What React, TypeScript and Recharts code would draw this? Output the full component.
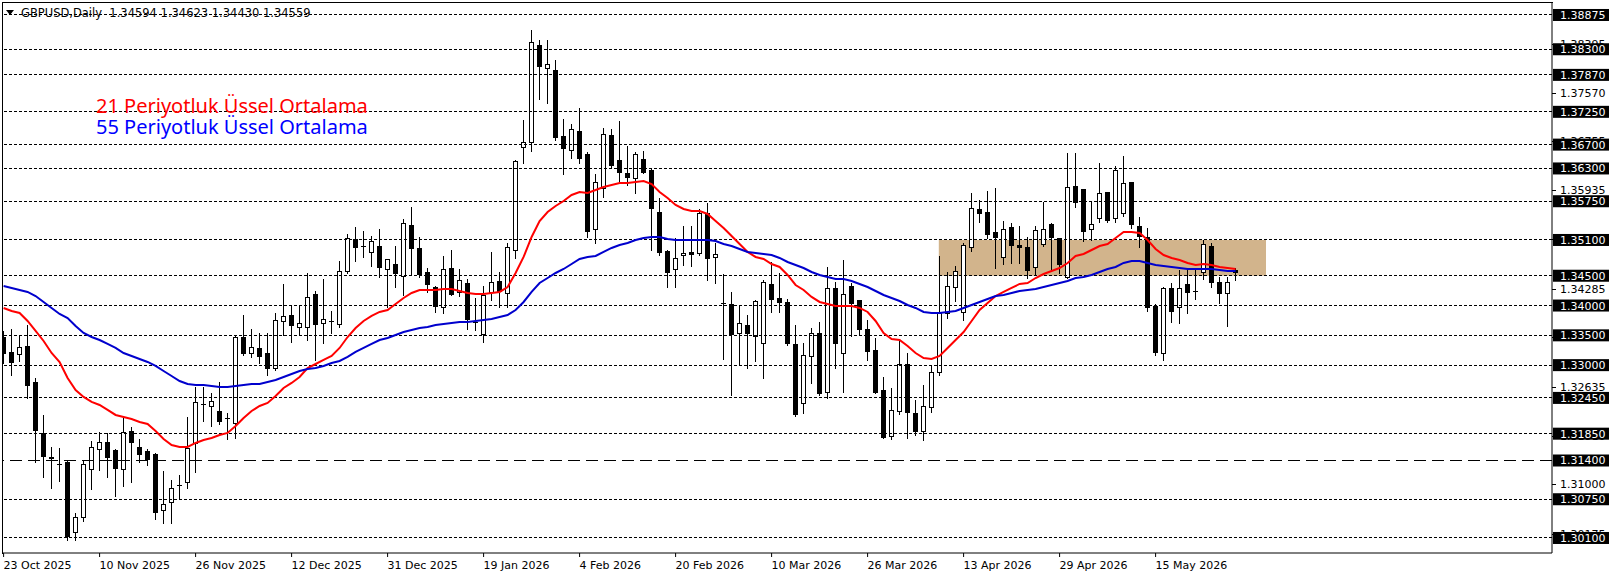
import { ComposedChart, Bar, Line, XAxis, YAxis, ReferenceLine, ReferenceArea } from 'recharts';

// GBPUSD daily, one entry per bar (index 0 = 23 Oct 2025)
const OPEN = [
  1.33472, 1.33221, 1.33187, 1.33322, 1.32717, 1.31862, 1.31459, 1.31342, 1.31375, 1.30201,
  1.30452, 1.31258, 1.31593, 1.31711, 1.31576, 1.31258, 1.31895, 1.31627, 1.3156, 1.31509,
  1.3057, 1.30704, 1.3099, 1.3104, 1.31694, 1.32348, 1.32315, 1.32231, 1.32113, 1.32029,
  1.33472, 1.33204, 1.33288, 1.33204, 1.32952, 1.33741, 1.33841, 1.3364, 1.3364, 1.34194,
  1.33707, 1.33741, 1.3369, 1.3458, 1.35117, 1.34999, 1.34898, 1.34999, 1.34613, 1.34697,
  1.34496, 1.35352, 1.34966, 1.34563, 1.34311, 1.33976, 1.3463, 1.34227, 1.34378, 1.33724,
  1.33523, 1.34227, 1.34412, 1.34211, 1.34932, 1.3666, 1.36744, 1.38372, 1.37986, 1.37952,
  1.36845, 1.3661, 1.36929, 1.36543, 1.35284, 1.35972, 1.36862, 1.36442, 1.36224, 1.3614,
  1.36459, 1.36274, 1.3557, 1.34915, 1.34613, 1.34848, 1.34898, 1.34882, 1.35553, 1.34815,
  1.34043, 1.34026, 1.3354, 1.33674, 1.3349, 1.33372, 1.34362, 1.34127, 1.3406, 1.33355,
  1.32365, 1.33154, 1.3354, 1.3255, 1.34295, 1.33204, 1.34328, 1.34093, 1.33607, 1.33254,
  1.32583, 1.31811, 1.32231, 1.33019, 1.32197, 1.31895, 1.32298, 1.32885, 1.33875, 1.34311,
  1.33892, 1.34982, 1.3562, 1.3557, 1.35234, 1.34815, 1.35318, 1.35016, 1.34982, 1.34647,
  1.35033, 1.35368, 1.35133, 1.34479, 1.36006, 1.35956, 1.35284, 1.35469, 1.35905, 1.35469,
  1.35553, 1.36073, 1.35335, 1.3515, 1.33992, 1.33204, 1.34295, 1.33976, 1.34362, 1.34244,
  1.34563, 1.34999, 1.34395, 1.34211, 1.34594,
];
const HIGH = [
  1.33573, 1.33607, 1.33506, 1.33674, 1.32784, 1.32164, 1.31627, 1.3161, 1.31409, 1.30519,
  1.31409, 1.31727, 1.31878, 1.31862, 1.3159, 1.32113, 1.31962, 1.31761, 1.31593, 1.31526,
  1.31224, 1.31073, 1.31157, 1.3213, 1.32634, 1.32634, 1.32533, 1.32717, 1.32197, 1.33506,
  1.33841, 1.33607, 1.3354, 1.3354, 1.33875, 1.34362, 1.33992, 1.33992, 1.34546, 1.34244,
  1.34446, 1.33909, 1.34748, 1.35201, 1.35318, 1.35251, 1.35167, 1.35284, 1.34781, 1.34999,
  1.35452, 1.35654, 1.3515, 1.3463, 1.3432, 1.34831, 1.34932, 1.34613, 1.34446, 1.34127,
  1.34328, 1.34899, 1.34563, 1.3505, 1.36442, 1.37113, 1.38623, 1.38455, 1.38455, 1.3812,
  1.3713, 1.37046, 1.37315, 1.36576, 1.36207, 1.36979, 1.36962, 1.37096, 1.36677, 1.36576,
  1.36593, 1.36308, 1.35805, 1.34932, 1.35133, 1.35335, 1.35335, 1.3562, 1.35721, 1.3505,
  1.34529, 1.34227, 1.34009, 1.33841, 1.34093, 1.34429, 1.34731, 1.34546, 1.3411, 1.33674,
  1.33372, 1.33623, 1.33724, 1.34647, 1.34395, 1.34764, 1.34378, 1.341, 1.33758, 1.33456,
  1.32801, 1.32617, 1.33405, 1.33204, 1.32415, 1.32667, 1.33003, 1.34831, 1.34563, 1.34664,
  1.3505, 1.35888, 1.35771, 1.35922, 1.35972, 1.35419, 1.35385, 1.35335, 1.3515, 1.35335,
  1.35737, 1.35385, 1.3514, 1.3656, 1.3656, 1.3596, 1.35754, 1.36392, 1.3591, 1.36341,
  1.36509, 1.3608, 1.35486, 1.35301, 1.34026, 1.34311, 1.34378, 1.34597, 1.34597, 1.34597,
  1.351, 1.3505, 1.34479, 1.34479, 1.34623,
];
const LOW = [
  1.33036, 1.32835, 1.3307, 1.32449, 1.31375, 1.31123, 1.30939, 1.31056, 1.30066, 1.30066,
  1.30385, 1.30922, 1.31241, 1.31123, 1.30805, 1.30972, 1.3104, 1.31375, 1.31325, 1.30419,
  1.30352, 1.30352, 1.30771, 1.30939, 1.31207, 1.32063, 1.31979, 1.32013, 1.31761, 1.31778,
  1.3317, 1.33137, 1.33036, 1.32835, 1.32919, 1.33506, 1.33389, 1.33506, 1.33422, 1.33086,
  1.33372, 1.3354, 1.3364, 1.34546, 1.34748, 1.34815, 1.34664, 1.34479, 1.33976, 1.34311,
  1.34177, 1.34513, 1.34479, 1.34227, 1.33892, 1.33875, 1.34177, 1.3416, 1.33607, 1.3359,
  1.33389, 1.34093, 1.33976, 1.33976, 1.34798, 1.36392, 1.36593, 1.37466, 1.37398, 1.36778,
  1.36207, 1.36476, 1.36392, 1.3515, 1.3505, 1.35821, 1.36325, 1.36073, 1.36023, 1.35888,
  1.36224, 1.34932, 1.34848, 1.34311, 1.34311, 1.3468, 1.34664, 1.34848, 1.34429, 1.34378,
  1.33103, 1.32499, 1.33003, 1.32952, 1.3307, 1.32785, 1.33892, 1.33892, 1.33338, 1.32147,
  1.32197, 1.32701, 1.32499, 1.32449, 1.32952, 1.3255, 1.3349, 1.33523, 1.33086, 1.32533,
  1.31778, 1.31761, 1.3218, 1.31778, 1.31828, 1.31744, 1.32214, 1.32835, 1.33791, 1.34076,
  1.33758, 1.34915, 1.35402, 1.35133, 1.3463, 1.34697, 1.34714, 1.34714, 1.34462, 1.34513,
  1.34999, 1.34613, 1.34546, 1.3447, 1.35654, 1.35083, 1.351, 1.35402, 1.35402, 1.35402,
  1.35503, 1.35301, 1.34982, 1.33909, 1.3317, 1.33086, 1.33724, 1.33707, 1.33875, 1.3411,
  1.34446, 1.34311, 1.34043, 1.33657, 1.3443,
];
const CLOSE = [
  1.33204, 1.33053, 1.33305, 1.32667, 1.31912, 1.31476, 1.3145, 1.31335, 1.30134, 1.30452,
  1.31342, 1.31627, 1.31711, 1.31459, 1.31274, 1.31878, 1.31711, 1.31509, 1.31425, 1.30536,
  1.3067, 1.30939, 1.30995, 1.3161, 1.32382, 1.3234, 1.32399, 1.32063, 1.32105, 1.33472,
  1.33204, 1.33305, 1.33154, 1.32952, 1.33758, 1.33825, 1.33674, 1.33707, 1.34143, 1.3369,
  1.33774, 1.33735, 1.3458, 1.35133, 1.34982, 1.34993, 1.35083, 1.34647, 1.34781, 1.34546,
  1.35385, 1.34966, 1.34529, 1.34362, 1.33992, 1.34613, 1.34194, 1.34429, 1.33774, 1.3373,
  1.34177, 1.34395, 1.34244, 1.34982, 1.36425, 1.36744, 1.38422, 1.38019, 1.38053, 1.36828,
  1.36643, 1.36962, 1.36476, 1.35251, 1.36073, 1.36878, 1.36358, 1.36241, 1.36157, 1.36543,
  1.36241, 1.35637, 1.34898, 1.34563, 1.34798, 1.34882, 1.34865, 1.35553, 1.34798, 1.34865,
  1.3404, 1.33523, 1.33707, 1.3354, 1.34076, 1.34395, 1.3411, 1.3406, 1.33372, 1.3218,
  1.3317, 1.3354, 1.32533, 1.34295, 1.33372, 1.34194, 1.34043, 1.33607, 1.33238, 1.3255,
  1.31795, 1.32248, 1.33019, 1.32214, 1.31895, 1.32315, 1.32885, 1.33875, 1.34328, 1.3458,
  1.35016, 1.35637, 1.35553, 1.35201, 1.3515, 1.35284, 1.35016, 1.34982, 1.34597, 1.35268,
  1.35284, 1.3515, 1.34697, 1.35989, 1.35737, 1.35251, 1.35368, 1.35888, 1.35435, 1.36274,
  1.36056, 1.35368, 1.35167, 1.33976, 1.33221, 1.34295, 1.33909, 1.34295, 1.34227, 1.3425,
  1.35033, 1.34395, 1.34211, 1.34395, 1.34559,
];
// exponential averages
const EMA21 = [
  1.33959, 1.33909, 1.33875, 1.33741, 1.33573, 1.33405, 1.33204, 1.33053, 1.32785, 1.32583,
  1.32466, 1.32382, 1.32332, 1.32248, 1.32164, 1.3213, 1.32097, 1.32046, 1.32013, 1.31895,
  1.31761, 1.3166, 1.31627, 1.31627, 1.31694, 1.31744, 1.31778, 1.31828, 1.31862, 1.31979,
  1.32113, 1.32231, 1.32315, 1.32365, 1.32483, 1.32617, 1.32701, 1.32801, 1.32952, 1.33019,
  1.33087, 1.33154, 1.33288, 1.33472, 1.33623, 1.33741, 1.33825, 1.33892, 1.33925, 1.34026,
  1.34127, 1.34211, 1.34261, 1.34261, 1.34261, 1.34278, 1.34278, 1.34244, 1.34211, 1.34194,
  1.34194, 1.34211, 1.34228, 1.34311, 1.34546, 1.34815, 1.3515, 1.35419, 1.3557, 1.3567,
  1.35754, 1.35855, 1.35905, 1.35888, 1.35939, 1.35989, 1.36023, 1.36056, 1.36056, 1.36073,
  1.3609, 1.36039, 1.35905, 1.35805, 1.35687, 1.3562, 1.35586, 1.35586, 1.35536, 1.35419,
  1.35301, 1.35167, 1.35033, 1.34899, 1.34815, 1.34781, 1.34697, 1.34647, 1.34513, 1.34345,
  1.34261, 1.34144, 1.3406, 1.34026, 1.33993, 1.33993, 1.33993, 1.33959, 1.33892, 1.33741,
  1.3354, 1.33439, 1.33422, 1.33321, 1.33204, 1.3312, 1.33103, 1.33154, 1.33288, 1.33422,
  1.33556, 1.33741, 1.33925, 1.34043, 1.3416, 1.34228, 1.34295, 1.34362, 1.34378, 1.34462,
  1.34529, 1.3458, 1.3463, 1.34714, 1.34831, 1.34865, 1.34932, 1.34999, 1.35033, 1.35133,
  1.35234, 1.35234, 1.35217, 1.351, 1.34949, 1.34848, 1.34798, 1.34764, 1.34714, 1.3468,
  1.34697, 1.3468, 1.34647, 1.3463, 1.34613,
];
const EMA55 = [
  1.34328, 1.34295, 1.34261, 1.34228, 1.3416, 1.3406, 1.33959, 1.33858, 1.33791, 1.33657,
  1.3354, 1.33472, 1.33422, 1.33355, 1.33288, 1.33204, 1.33154, 1.33103, 1.33053, 1.32986,
  1.32902, 1.32818, 1.32734, 1.32684, 1.32667, 1.32667, 1.3265, 1.32634, 1.32634, 1.3265,
  1.32667, 1.32684, 1.32684, 1.32717, 1.32751, 1.32801, 1.32852, 1.32902, 1.32936, 1.32952,
  1.32986, 1.33036, 1.3307, 1.33137, 1.33221, 1.33288, 1.33355, 1.33422, 1.33456, 1.33506,
  1.33556, 1.3359, 1.33623, 1.3364, 1.33674, 1.33691, 1.33707, 1.33724, 1.33724, 1.33741,
  1.33758, 1.33774, 1.33808, 1.33841, 1.33925, 1.3406, 1.34228, 1.34378, 1.34462, 1.34546,
  1.34613, 1.34697, 1.34781, 1.34815, 1.34831, 1.34899, 1.34966, 1.35016, 1.3505, 1.351,
  1.35133, 1.3515, 1.3515, 1.35117, 1.351, 1.351, 1.351, 1.351, 1.351, 1.35083,
  1.35033, 1.34999, 1.34949, 1.34899, 1.34882, 1.34865, 1.34848, 1.34798, 1.34731, 1.3468,
  1.3463, 1.34563, 1.34513, 1.34479, 1.34446, 1.34446, 1.34412, 1.34362, 1.34311, 1.34244,
  1.34177, 1.34127, 1.34076, 1.34009, 1.33959, 1.33892, 1.33875, 1.33875, 1.33892, 1.33909,
  1.33959, 1.34009, 1.3406, 1.3411, 1.3416, 1.34177, 1.34211, 1.34244, 1.34261, 1.34278,
  1.34311, 1.34345, 1.34378, 1.34412, 1.34462, 1.34479, 1.34513, 1.34563, 1.34613, 1.34647,
  1.34714, 1.34748, 1.34748, 1.34714, 1.3468, 1.34664, 1.34647, 1.3463, 1.34613, 1.34613,
  1.34613, 1.34613, 1.34597, 1.3458, 1.3458,
];

const DATE_TICKS = [0, 12, 24, 36, 48, 60, 72, 84, 96, 108, 120, 132, 144];
const DATE_LABELS = [
  '23 Oct 2025', '10 Nov 2025', '26 Nov 2025', '12 Dec 2025', '31 Dec 2025', '19 Jan 2026',
  '4 Feb 2026', '20 Feb 2026', '10 Mar 2026', '26 Mar 2026', '13 Apr 2026', '29 Apr 2026', '15 May 2026',
];
const PRICE_TICKS = [1.38395, 1.3757, 1.36755, 1.35935, 1.3511, 1.34285, 1.3347, 1.32635, 1.3181, 1.31, 1.30175];
const LEVELS = [
  1.38875, 1.383, 1.3787, 1.3725, 1.367, 1.363, 1.3575, 1.351, 1.345, 1.34, 1.335, 1.33,
  1.3245, 1.3185, 1.314, 1.3075, 1.301,
];
const KEY_LEVEL = 1.314;
// supply/demand box, in bar index units and price
const ZONE_BARS = [116.9, 157.8];
const ZONE_PRICES = [1.345, 1.351];

const data = OPEN.map((open, i) => ({
  i,
  open,
  high: HIGH[i],
  low: LOW[i],
  close: CLOSE[i],
  range: [LOW[i], HIGH[i]],
  ema21: EMA21[i],
  ema55: EMA55[i],
}));

const FONT = '"DejaVu Sans", Tahoma, sans-serif';

function Candle(props: any) {
  const { x, y, width, height, payload } = props;
  if (x == null || y == null || !payload) return null;
  const top = Math.min(y, y + height);
  const h = Math.abs(height);
  const span = payload.high - payload.low;
  const toY = (p: number) => (span > 0 ? top + ((payload.high - p) / span) * h : top);
  const cx = Math.round(x + width / 2);
  const up = payload.close >= payload.open;
  const bTop = Math.round(toY(Math.max(payload.open, payload.close)));
  const bBot = Math.round(toY(Math.min(payload.open, payload.close)));
  return (
    <g shapeRendering="crispEdges">
      <line x1={cx + 0.5} x2={cx + 0.5} y1={Math.round(top)} y2={Math.round(top + h) + 1} stroke="#000" />
      {bBot - bTop < 1 ? (
        <line x1={cx - 2} x2={cx + 3} y1={bTop + 0.5} y2={bTop + 0.5} stroke="#000" />
      ) : (
        <rect x={cx - 1.5} y={bTop + 0.5} width={4} height={bBot - bTop} fill={up ? '#fff' : '#000'} stroke="#000" />
      )}
    </g>
  );
}

function PriceTick({ x, y, payload }: any) {
  const v = payload.value as number;
  const label = v.toFixed(5);
  if (LEVELS.includes(v)) {
    return (
      <g>
        <rect x={x + 1} y={y - 6} width={56} height={12} fill="#000" />
        <text x={x + 8} y={y + 4} fill="#fff" fontSize={11} fontFamily={FONT}>
          {label}
        </text>
      </g>
    );
  }
  return (
    <g>
      <line x1={x} x2={x + 4} y1={y + 0.5} y2={y + 0.5} stroke="#000" shapeRendering="crispEdges" />
      <text x={x + 8} y={y + 4} fill="#000" fontSize={11} fontFamily={FONT}>
        {label}
      </text>
    </g>
  );
}

function DateTick({ x, y, payload }: any) {
  const idx = DATE_TICKS.indexOf(payload.value);
  return (
    <text x={x} y={y + 12} fill="#000" fontSize={11} fontFamily={FONT} textAnchor="start">
      {DATE_LABELS[idx]}
    </text>
  );
}

export default function App() {
  return (
    <div style={{ position: 'relative', width: 1616, height: 577, background: '#fff' }}>
      <style>{'body{margin:0;background:#fff}'}</style>
      <ComposedChart width={1616} height={577} data={data} margin={{ top: 3, right: 3, bottom: 0, left: 3 }}>
        <XAxis
          dataKey="i"
          type="number"
          domain={[-0.075, 193.55]}
          allowDataOverflow
          ticks={DATE_TICKS}
          interval={0}
          tick={<DateTick />}
          tickSize={4}
          tickMargin={0}
          height={24}
          stroke="#000"
        />
        <YAxis
          orientation="right"
          type="number"
          domain={[1.29848, 1.39076]}
          allowDataOverflow
          ticks={[...PRICE_TICKS, ...LEVELS]}
          interval={0}
          tick={<PriceTick />}
          tickLine={false}
          tickSize={0}
          tickMargin={0}
          width={61}
          stroke="#000"
        />
        <ReferenceArea
          x1={ZONE_BARS[0]}
          x2={ZONE_BARS[1]}
          y1={ZONE_PRICES[0]}
          y2={ZONE_PRICES[1]}
          fill="#d2b48c"
          fillOpacity={1}
          stroke="none"
          ifOverflow="hidden"
        />
        {LEVELS.map((lv) => (
          <ReferenceLine
            key={lv}
            y={lv}
            stroke="#000"
            strokeWidth={1}
            strokeDasharray={lv === KEY_LEVEL ? '12 6' : '3 2'}
            shapeRendering="crispEdges"
          />
        ))}
        <Bar dataKey="range" barSize={8} isAnimationActive={false} shape={(p: any) => <Candle {...p} />} />
        <Line dataKey="ema21" stroke="#ff0000" strokeWidth={2} dot={false} type="linear" isAnimationActive={false} />
        <Line dataKey="ema55" stroke="#0000cd" strokeWidth={2} dot={false} type="linear" isAnimationActive={false} />
      </ComposedChart>
      <div
        style={{
          position: 'absolute',
          left: 2,
          top: 2,
          width: 1550,
          height: 551,
          borderLeft: '1px solid #000',
          borderTop: '1px solid #000',
          pointerEvents: 'none',
        }}
      />
      <svg style={{ position: 'absolute', left: 0, top: 0 }} width={320} height={20}>
        <polygon points="6,10 14,10 10,15" fill="#000" />
        <text x={21} y={17} fontSize={11.5} fontFamily={FONT} fill="#000" style={{ whiteSpace: 'pre' }}>
          GBPUSD,Daily  1.34594 1.34623 1.34430 1.34559
        </text>
      </svg>
      <div
        style={{
          position: 'absolute',
          left: 96,
          top: 95,
          fontFamily: '"Noto Sans", sans-serif',
          fontSize: 20,
          lineHeight: '21px',
          whiteSpace: 'nowrap',
        }}
      >
        <div style={{ color: '#ff0000' }}>21 Periyotluk Üssel Ortalama</div>
        <div style={{ color: '#0000ff' }}>55 Periyotluk Üssel Ortalama</div>
      </div>
    </div>
  );
}
